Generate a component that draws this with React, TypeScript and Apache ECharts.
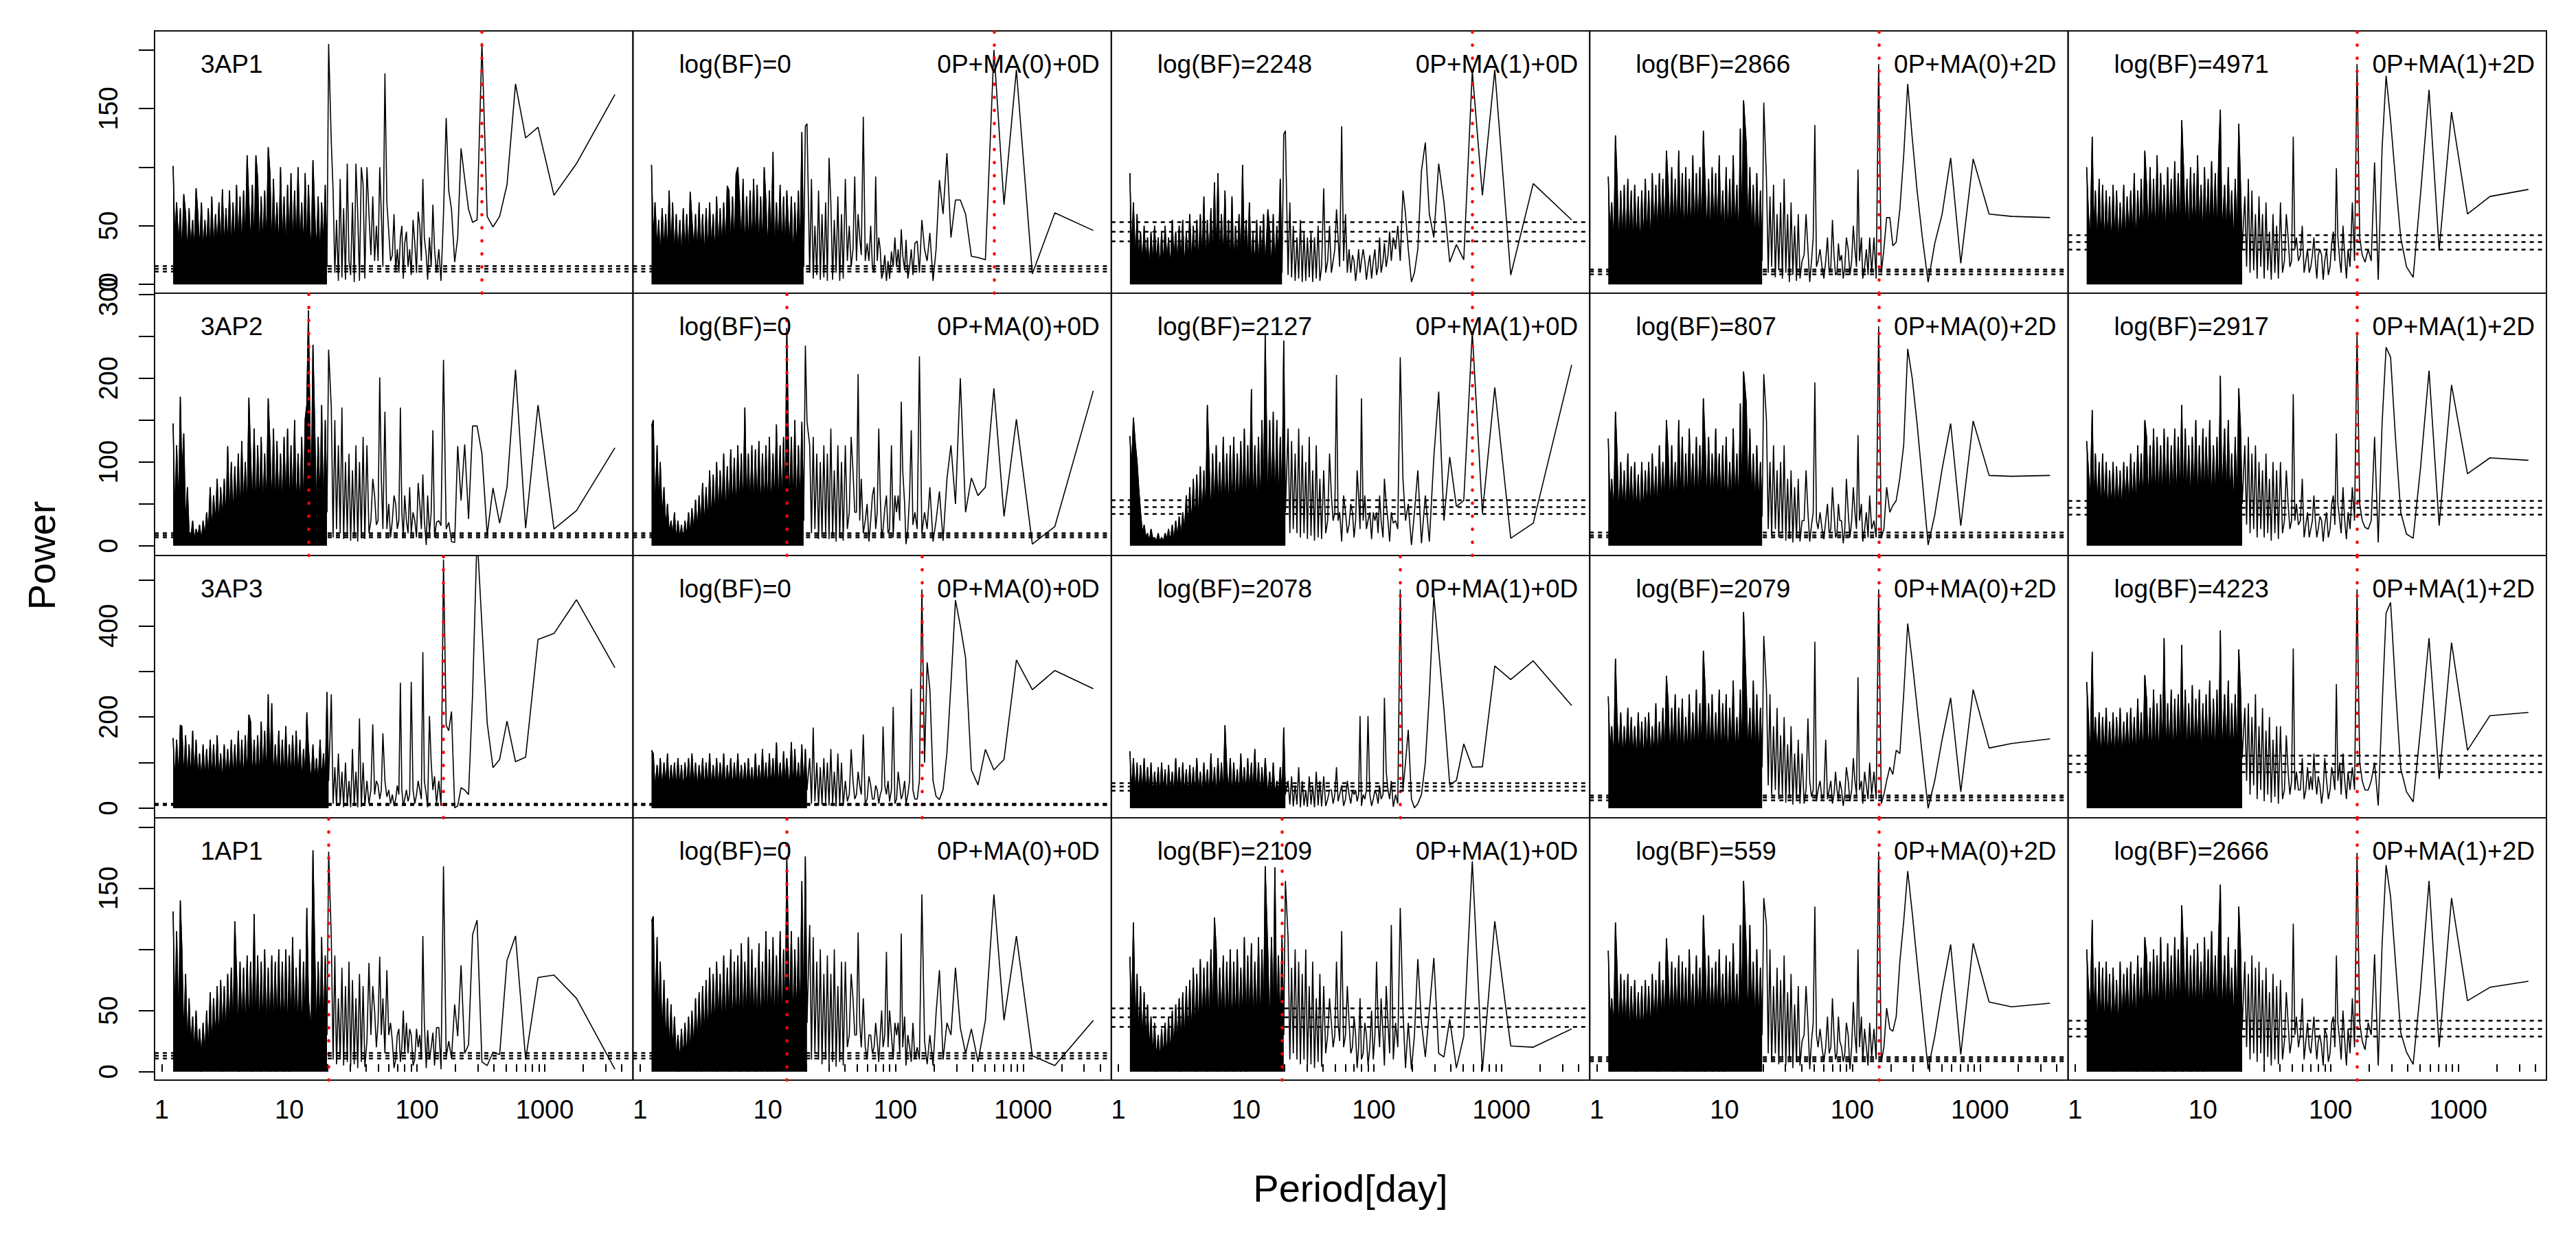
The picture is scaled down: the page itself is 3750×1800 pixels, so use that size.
import React, { useEffect, useRef } from "react";
import * as echarts from "echarts";

// Period grid (days): long periods (T/k), mid range, dense short-period range
const periodsExact = [3540, 1770, 1180, 885, 708, 590, 506, 443, 393, 354, 322, 295, 272, 253, 236, 221, 208, 197, 186, 177, 169, 161, 154, 148];
const periodsMid = [142, 137, 133, 129, 125, 121, 118, 114, 111, 108, 105, 102, 99, 96, 93, 90, 87.5, 85, 82.5, 80, 78, 76, 74, 72, 70, 68, 66, 64, 62, 60, 58, 56, 54, 52.5, 51, 49.5, 48, 46.5, 45, 43.5, 42, 40.5];
const periodsDense = [39, 37.8, 36.6, 35.4, 34.3, 33.2, 32.2, 31.2, 30.2, 29.3,
  28.4, 27.5, 26.6, 25.8, 25, 24.2, 23.4, 22.7, 22, 21.3,
  20.3, 19.7, 19.1, 18.5, 17.9, 17.4, 16.8, 16.3, 15.8, 15.3,
  14.8, 14.1, 13.7, 13.3, 12.9, 12.5, 12.1, 11.7, 11.3, 11,
  10.6, 10.3, 10, 9.68, 9.38, 9.09, 8.8, 8.53, 8.26, 8,
  7.75, 7.51, 7.28, 7.05, 6.83, 6.62, 6.41, 6.21, 6.02, 5.83,
  5.65, 5.47, 5.3, 5.13, 4.97, 4.82, 4.67, 4.52, 4.38, 4.24,
  4.11, 3.98, 3.86, 3.74, 3.62, 3.51, 3.4, 3.29, 3.19, 3.09,
  2.99, 2.9, 2.81, 2.72, 2.64, 2.55, 2.47, 2.4, 2.32, 2.25,
  2.18, 2.11, 2.05, 1.98, 1.92, 1.86, 1.8, 1.75, 1.69, 1.64,
  1.59, 1.54, 1.49, 1.44, 1.4, 1.36, 1.31, 1.27, 1.23];

const rowNames = ["3AP1", "3AP2", "3AP3", "1AP1"];
const modelNames = ["0P+MA(0)+0D", "0P+MA(1)+0D", "0P+MA(0)+2D", "0P+MA(1)+2D"];
const logBF = [
  [0, 2248, 2866, 4971],
  [0, 2127, 807, 2917],
  [0, 2078, 2079, 4223],
  [0, 2109, 559, 2666],
];

const yMin = [-7.5, -11.6, -21, -6.9];
const yMax = [216.2, 301.5, 554, 207.6];
const yTickValues = [
  [0, 50, 100, 150, 200],
  [0, 50, 100, 150, 200, 250, 300],
  [0, 100, 200, 300, 400, 500],
  [0, 50, 100, 150, 200],
];
const yLabelValues = [
  [0, 50, 150],
  [0, 100, 200, 300],
  [0, 200, 400],
  [0, 50, 150],
];
const xLabelValues = [1, 10, 100, 1000];
const xTickValues = [1, 2, 3, 4, 5, 6, 7, 8, 9, 10, 20, 30, 40, 50, 60, 70, 80, 90, 100, 200, 300, 400, 500, 600, 700, 800, 900, 1000, 2000, 3000, 4000];

const signalPeriod = [
  [322, 590, 590, 161, 161],
  [14.1, 14.1, 590, 161, 161],
  [161, 161, 161, 161, 161],
  [20.3, 14.1, 19, 161, 161],
];

const levels = [
  [[11, 13.5, 16], [11, 13.5, 16], [37, 45, 53], [9, 11, 13], [30, 36, 42]],
  [[10, 12.5, 15], [10, 12.5, 15], [38, 46, 54.5], [10.5, 13, 16], [37.5, 45.5, 54]],
  [[7.5, 9, 10.5], [7.5, 9, 10.5], [38.5, 47.5, 56], [18.5, 23.5, 28.5], [80, 98, 115]],
  [[11, 13, 15.5], [11, 13, 15.5], [37, 44.5, 52], [8.5, 10.5, 12], [29, 35, 42]],
];

// Power values on the period grid (24 long + 42 mid + 109 dense)
const r1c1 = [162,103,76,134,125,171,85,58,49,58,206,55,53,64,90,116,40,19,64,80,142,60,3,30,
  10,30,68,15,40,4,25,40,90,20, 50,62,10,35,55,8,30,15,45,35, 5,50,40,10,30,12,60,25,20,45, 70,180,15,60,100,20,50,20,75,25, 60,100,
  5,85,100,3,60,103,2,70,8,20, 103,4,65,6,90,3,55,10,80,121, 205,15,85,30,70,18,75,25,60,106, 20,85,22,95,25,70,30,100,25,80,
  28,95,30,85,22,75,28,100,25,70, 30,90,25,95,117,28,80,30,75,25, 90,110,28,85,30,70,110,30,80,25, 75,30,85,28,70,25,80,30,65,28,
  81,25,70,30,60,28,75,25,65,30, 55,25,70,28,60,82,25,55,30,65, 25,60,77,22,65,30,70,35,101];
const r1c2 = [46,61,9,183,68,200,21,23,24,60,72,72,40,112,60,89,30,3,44,20,30,55,10,37,
  35,8,30,15,5,38,12,25,47,10, 30,15,40,15,28,5,20,3,25,10, 5,30,40,20,92,10,15,50,20,35, 20,143,25,40,60,20,92,30,15,50, 20,90,
  5,60,3,75,10,55,4,70,108,3, 70,6,60,4,80,8,50,5,90,10, 137,135,15,130,20,80,25,70,18,75, 30,80,22,75,25,85,30,70,20,113,
  30,80,25,70,100,28,75,25,85,30, 90,28,80,30,75,25,90,30,70,100, 94,28,75,30,80,84,25,70,28,65, 25,75,22,60,28,70,25,65,20,60,
  25,70,22,60,28,55,79,20,60,25, 65,18,55,25,60,20,70,25,80,22, 60,28,65,20,55,30,70,35,102];
const r1c3 = [55,86,8,183,76,182,21,34,19,70,103,40,60,121,97,30,10,2,30,60,80,20,50,30,
  40,20,45,25,15,35,20,10,40,15, 8,30,20,5,25,15,4,20,30,20, 10,30,15,3,20,25,10,30,10,60, 20,135,15,40,64,30,20,10,50,20, 10,82,
  15,3,50,5,40,2,45,6,40,3, 45,2,55,5,40,3,50,6,70,8, 131,128,10,90,20,50,15,60,10,45, 64,10,60,18,50,12,55,15,45,10,
  70,15,55,20,102,15,60,18,50,15, 75,15,55,20,80,18,60,15,95,20, 87,18,65,20,55,15,75,18,60,15, 55,20,50,15,60,18,45,12,55,18,
  50,15,45,20,55,12,40,18,50,15, 45,12,40,18,50,15,45,12,40,18, 50,15,45,20,60,18,70,25,95];
const r1c4 = [57,58,60,107,18,108,60,35,2,40,80,125,171,110,64,36,33,57,57,30,10,188,5,40,
  10,40,8,30,15,5,40,20,98,15, 30,50,20,8,30,40,15,5,25,20, 35,10,8,25,55,15,10,40,20,5, 15,30,20,15,136,40,20,2,30,60, 25,20,
  5,60,3,50,8,70,2,60,10,90, 5,70,12,60,6,85,15,75,10,90, 155,20,80,30,95,25,85,35,100,40, 120,157,40,133,30,85,40,110,35,90,
  38,100,35,80,40,110,35,95,40,100, 35,90,40,85,131,35,100,40,95,35, 110,38,90,40,100,35,95,40,114,35, 90,40,100,38,85,114,35,90,40,95,
  35,85,38,95,30,80,35,90,32,80, 28,75,32,85,28,80,30,90,25,85, 30,80,28,90,127,30,70,40,92];
const r1c5 = [81,75,60,147,29,166,77,6,15,40,90,140,178,116,4,104,20,30,19,25,40,188,20,70,
  15,30,5,25,50,10,20,40,99,20, 45,35,15,8,30,20,4,25,30,25, 5,20,40,25,15,10,30,20,10,50, 25,20,40,30,126,20,15,40,60,20, 10,70,
  5,50,10,60,4,45,12,70,5,60, 15,75,5,60,12,80,10,90,15,75, 30,85,137,35,90,30,80,40,100,35, 85,40,149,110,35,95,40,105,38,90,
  42,100,35,85,40,110,38,95,40,100, 35,90,42,100,140,35,95,40,105,38, 90,42,100,35,85,40,95,38,110,35, 90,40,100,38,85,114,35,90,40,80,
  30,95,35,80,40,75,28,85,32,70, 28,80,32,85,28,75,35,80,30,85, 32,90,28,80,40,126,35,60,100];

const r2c1 = [117,42,20,168,21,210,70,27,69,13,110,143,143,32,121,54,119,4,5,28,20,222,24,30,
  28,10,138,40,15,60,1,30,85,20, 50,75,10,30,40,15,70,15,30,60, 10,40,165,30,20,50,60,30,10,50, 20,160,20,80,201,30,25,60,80,30, 15,120,
  8,130,10,100,5,120,12,90,6,110, 15,100,8,165,15,120,20,150,10,165, 234,40,150,25,168,45,130,35,140,240, 40,281,168,151,35,130,40,110,35,150,
  40,120,35,140,40,130,38,110,40,125, 35,140,40,120,176,38,110,35,130,40, 120,35,140,38,110,177,35,100,40,125, 30,110,35,95,30,100,28,119,25,80,
  30,70,20,80,25,60,15,70,15,40, 10,30,5,25,10,20,5,30,8,15, 70,20,134,80,178,40,120,30,146];
const r2c2 = [185,23,2,151,35,188,70,60,81,40,200,50,120,80,6,65,30,5,70,20,40,15,226,20,
  40,25,138,60,20,2,50,90,172,30, 60,40,60,10,120,20,15,60,45,20, 10,60,140,40,20,70,60,30,5,50, 30,15,80,30,205,40,40,90,130,40, 20,120,
  6,100,10,120,5,90,12,140,8,110, 15,120,10,100,8,110,20,130,15,120, 148,239,30,148,40,120,35,150,40,130, 35,260,40,130,40,120,35,145,40,110,
  38,130,35,120,40,110,35,125,40,115, 35,120,40,110,38,165,35,110,40,120, 35,105,38,115,35,95,30,110,35,90, 30,100,28,85,25,90,25,70,20,75,
  20,60,15,55,15,45,10,40,10,30, 5,25,8,30,5,40,10,30,15,50, 20,70,30,100,40,120,35,150,143];
const r2c3 = [216,27,9,189,39,255,54,47,106,30,184,106,5,60,3,90,40,1,50,30,80,225,20,30,
  27,40,5,30,50,80,10,30,60,15, 40,30,40,8,40,30,20,60,30,176, 20,60,90,30,10,40,50,25,15,40, 60,5,40,30,204,40,30,60,110,30, 15,90,
  8,80,10,120,6,90,12,130,8,100, 15,120,10,140,15,110,20,125,15,140, 40,245,35,130,40,150,35,160,40,150, 35,252,40,150,38,130,40,120,35,187,
  40,120,35,140,38,125,40,110,35,130, 40,120,35,110,38,130,35,100,40,120, 35,110,30,100,168,30,90,28,95,25, 85,25,80,22,70,20,60,15,40,10,
  35,8,30,5,25,5,20,8,15,5, 10,5,15,5,10,8,20,5,15,10, 25,15,40,70,100,120,153,90,131];
const r2c4 = [84,83,84,149,24,146,92,37,1,78,146,200,235,120,81,54,48,40,70,20,10,262,10,30,
  20,60,10,40,20,5,50,30,132,20, 40,70,30,10,40,80,20,3,30,30, 50,15,10,40,70,20,15,50,30,8, 20,40,20,30,195,40,25,5,40,90, 30,30,
  5,80,10,70,4,90,8,80,6,120, 15,100,10,90,20,120,12,100,20,150, 205,35,100,45,120,40,110,45,140,50, 170,208,45,170,40,110,45,140,40,100,
  45,130,40,120,45,110,50,140,45,110, 40,130,45,120,176,45,120,40,130,45, 110,50,140,45,110,40,130,45,150,40, 100,45,120,40,110,150,40,100,45,120,
  35,95,40,110,35,100,40,90,35,100, 30,85,35,100,30,95,35,110,30,90, 35,100,30,110,160,35,80,45,128];
const r2c5 = [102,105,86,192,24,209,93,9,14,40,129,225,237,146,4,130,30,20,22,30,50,253,30,70,
  20,40,8,30,70,15,30,50,134,25, 60,50,20,10,40,25,5,30,35,20, 10,30,60,30,20,10,40,25,10,80, 30,25,50,30,181,30,20,50,90,30, 15,100,
  8,90,15,100,6,80,15,110,10,90, 20,100,10,120,20,110,15,130,25,120, 50,140,188,45,130,40,110,50,150,45, 140,50,203,45,130,50,120,45,150,50,
  130,45,140,50,120,45,150,50,130,45, 120,50,140,45,168,50,130,45,140,50, 120,45,130,50,140,45,120,50,130,45, 140,50,120,45,130,150,45,110,50,120,
  40,100,45,110,40,95,45,100,35,90, 40,95,35,100,40,90,35,100,40,110, 35,100,45,110,40,162,50,90,125];

const r3c1 = [308,457,383,370,112,102,191,107,89,187,400,600,250,30,40,45,5,1,212,170,182,545,5,60,
  10,70,40,100,202,2,30,60,342,20, 40,60,30,10,40,277,30,15,40,20, 5,40,275,30,50,20,5,30,10,40, 25,60,164,40,20,50,60,30,184,40, 10,60,
  5,100,3,197,2,80,6,130,2,60, 5,100,2,80,8,120,5,90,10,250, 60,255,50,120,60,150,50,110,60,140, 55,130,210,60,130,55,150,60,170,55,
  160,60,140,55,180,60,150,55,170,60, 140,55,230,60,250,55,170,60,190,55, 160,60,150,55,190,205,60,160,55,150, 60,170,55,140,60,150,55,130,60,140,
  55,120,60,160,55,140,60,150,55,130, 60,140,55,120,60,150,55,170,60,140, 55,160,60,180,182,60,150,55,154];
const r3c2 = [262,302,260,325,107,84,129,51,84,330,400,456,272,122,41,19,26,60,260,320,100,480,60,20,
  20,40,262,60,30,10,60,30,20,50, 80,20,10,222,40,15,60,30,50,179, 40,30,10,40,50,20,20,50,70,20, 10,162,30,50,80,30,20,60,129,30, 15,60,
  5,100,8,120,4,80,10,130,6,100, 12,110,8,90,6,100,15,177,10,110, 40,130,35,140,40,100,45,130,40,145, 40,110,45,125,40,100,45,144,40,110,
  45,120,40,100,45,130,40,95,45,120, 40,90,45,110,40,100,45,95,40,120, 45,100,40,110,45,95,40,120,45,100, 40,110,45,95,40,120,45,100,40,110,
  45,95,40,100,45,120,40,110,45,100, 40,95,45,110,40,100,45,95,40,120, 45,100,40,110,45,95,40,120,127];
const r3c3 = [225,323,282,312,91,90,141,61,51,217,346,466,250,100,30,10,1,20,172,100,40,480,10,30,
  3,60,20,40,80,242,30,20,50,10, 30,40,20,5,30,202,40,20,30,5, 202,30,15,40,30,40,10,30,60,20, 5,50,30,15,90,30,10,40,40,20, 5,70,
  4,60,6,80,2,50,8,70,3,40, 6,60,2,90,8,50,4,70,8,60, 30,177,20,90,25,60,30,100,20,80, 25,110,30,90,25,100,30,130,25,100,
  30,110,25,90,30,120,25,85,30,100, 25,110,30,90,182,25,100,30,110,25, 90,30,120,25,85,30,100,25,80,30, 110,25,90,30,95,25,85,30,100,25,
  90,30,110,25,80,30,95,25,85,30, 100,25,90,30,80,25,100,30,90,25, 110,30,95,25,100,30,110,35,125];
const r3c4 = [152,142,132,260,36,242,151,61,0,115,222,322,405,250,120,127,74,90,60,30,10,480,20,80,
  30,100,20,50,80,10,60,40,287,30, 60,110,40,15,60,90,30,5,40,60, 20,40,80,30,10,60,40,20,150,30, 20,60,40,15,365,40,25,60,197,40, 10,120,
  10,150,20,120,8,180,25,140,12,200, 30,160,20,220,40,180,30,250,50,260, 378,90,220,100,250,90,280,100,220,110, 260,430,100,260,110,200,100,280,110,220,
  100,250,110,230,100,260,110,210,100,250, 110,230,100,260,345,110,230,100,260,110, 210,100,250,110,200,100,240,110,220,100, 250,110,220,100,230,290,100,220,110,190,
  100,230,110,180,100,210,110,200,100,190, 110,210,100,180,110,200,100,220,110,180, 100,210,110,200,328,100,180,120,245];
const r3c5 = [210,203,127,363,64,373,174,14,36,87,266,451,428,222,6,100,60,40,40,60,100,480,40,90,
  40,80,20,60,120,30,100,60,272,40, 70,90,40,20,60,110,40,10,50,70, 30,60,120,40,70,40,90,40,20,110, 40,40,80,40,350,60,30,80,160,40, 20,180,
  10,180,25,150,12,200,30,170,15,220, 40,180,20,250,50,200,30,230,60,220, 110,260,348,100,250,110,230,100,280,110, 250,100,390,110,260,100,240,110,280,100,
  250,110,230,100,260,110,240,100,270,110, 230,100,260,110,358,100,250,110,240,100, 260,110,230,100,373,110,250,100,230,110, 260,100,220,110,240,292,100,210,110,240,
  100,200,110,220,100,210,110,190,100,220, 110,200,100,210,110,190,100,220,110,200, 100,210,110,200,120,343,100,200,277];

const r4c1 = [2,60,79,77,10,111,91,14,16,5,8,124,112,22,15,87,29,55,11,25,12,168,2,36,
  36,5,32,20,10,34,3,40,111,10, 30,20,35,10,5,30,35,15,40,15, 50,20,8,35,30,10,3,25,40,30, 83,15,60,30,94,40,20,50,70,30, 89,25,
  4,70,8,80,3,60,6,75,4,90, 8,70,5,85,10,60,6,95,10,110, 180,30,95,25,110,30,90,25,100,181, 30,60,134,30,90,25,100,30,85,28,
  110,30,95,25,100,30,90,28,100,30, 90,28,95,30,85,25,100,30,90,28, 95,30,129,28,90,30,95,25,85,30, 90,28,80,123,25,85,30,80,25,70,
  28,75,20,70,25,60,18,65,15,50, 12,40,10,35,15,50,12,45,20,60, 15,80,25,100,140,30,115,40,131];
const r4c2 = [42,5,13,111,42,145,42,8,35,15,36,85,30,40,10,83,48,5,30,6,25,145,10,20,
  10,40,8,20,30,5,45,20,113,15, 40,30,40,10,30,50,20,98,30,20, 50,30,8,25,40,20,15,30,30,10, 20,60,20,40,114,30,30,60,80,30, 20,90,
  5,90,8,70,4,100,8,80,5,95, 10,80,6,100,10,90,15,110,10,120, 40,176,35,156,30,110,40,100,35,115, 40,176,35,100,30,115,35,95,30,110,
  35,100,30,115,35,90,30,105,30,85, 35,100,30,110,35,90,30,105,30,95, 35,90,30,100,35,85,30,95,30,80, 35,90,30,80,28,85,25,75,25,70,
  20,65,18,60,15,50,12,45,10,40, 10,35,8,30,10,45,15,55,15,60, 20,75,25,90,30,110,40,127,123];
const r4c3 = [35,20,21,123,1,172,29,3,43,12,15,93,50,12,40,92,30,2,40,3,50,134,20,40,
  10,120,15,40,70,5,30,60,20,40, 90,30,10,50,20,5,30,40,15,10, 60,20,3,30,45,20,15,40,70,30, 20,115,25,40,90,30,20,40,60,30, 15,70,
  4,80,8,60,3,90,6,70,5,100, 10,80,6,90,10,100,15,85,10,110, 156,30,110,35,95,30,167,35,110,30, 95,168,35,100,30,110,35,90,30,105,
  35,95,30,110,35,85,30,100,35,90, 30,100,35,90,30,95,35,85,30,100, 126,35,100,30,90,35,85,30,92,30, 80,28,85,25,75,25,70,22,65,20,
  60,18,55,15,50,12,45,10,40,10, 35,8,30,10,40,12,45,15,55,20, 65,20,70,25,80,30,122,40,94];
const r4c4 = [56,53,57,105,14,104,66,29,2,48,90,130,164,123,90,45,33,35,52,20,8,180,10,35,
  12,40,5,20,35,8,45,20,100,15, 30,57,20,2,30,40,15,8,20,25, 45,15,10,30,60,20,15,45,20,8, 20,35,20,30,135,40,25,2,40,70, 30,25,
  5,70,8,55,3,80,10,65,5,95, 12,75,6,85,15,70,8,100,15,120, 142,30,85,35,100,30,90,40,120,35, 100,156,40,120,35,80,40,105,35,90,
  38,95,35,80,40,100,35,90,38,85, 35,95,40,90,128,35,85,40,95,35, 80,40,100,35,85,40,90,35,95,38, 85,35,90,38,80,109,35,75,38,90,
  32,75,35,80,30,70,32,75,28,70, 30,65,28,75,30,70,25,80,30,75, 28,80,30,85,122,35,60,40,99];
const r4c5 = [74,69,58,142,20,156,68,6,16,32,90,143,169,104,5,96,30,40,18,25,40,179,20,60,
  15,35,5,25,50,10,25,40,95,20, 45,40,15,8,30,35,5,20,30,25, 10,25,45,30,15,20,40,25,10,60, 30,20,45,30,121,25,15,40,65,25, 10,75,
  6,70,10,80,5,65,12,85,6,75, 15,90,8,85,15,95,10,80,20,90, 35,100,135,40,100,35,85,45,110,40, 95,40,153,110,40,95,45,115,40,100,
  45,110,40,90,45,105,40,100,45,95, 40,110,45,100,136,40,100,45,110,40, 95,45,105,40,90,45,110,40,95,45, 100,40,90,45,95,110,40,85,45,95,
  35,80,40,90,35,85,40,80,35,90, 30,75,35,85,30,80,35,90,30,85, 35,90,30,85,40,124,45,70,100];

const panelPowers = [
  [r1c1, r1c2, r1c3, r1c4, r1c5],
  [r2c1, r2c2, r2c3, r2c4, r2c5],
  [r3c1, r3c2, r3c3, r3c4, r3c5],
  [r4c1, r4c2, r4c3, r4c4, r4c5],
];

const FONT = "'Liberation Sans', Arial, Helvetica, sans-serif";
const LEFT = 225;
const TOP = 45;
const COLW = 696.4;
const ROWH = 382;
const NDENSE_START = periodsExact.length + periodsMid.length;
const NSOLID_START = NDENSE_START + 20; // periods of about 20 days and shorter form the solid mass

// first local minimum at or after the given index, so the filled mass starts from a low point
function solidStart(pw: number[], from: number) {
  for (let j = Math.max(from, 1); j < pw.length - 1; j++) {
    if (pw[j] <= pw[j - 1] && pw[j] <= pw[j + 1]) return j;
  }
  return from;
}

function buildOption() {
  const periods = [...periodsExact, ...periodsMid, ...periodsDense];
  const grid: any[] = [];
  const xAxis: any[] = [];
  const yAxis: any[] = [];
  const series: any[] = [];
  const graphic: any[] = [];

  for (let r = 0; r < 4; r++) {
    for (let c = 0; c < 5; c++) {
      const i = r * 5 + c;
      grid.push({
        left: LEFT + c * COLW,
        top: TOP + r * ROWH,
        width: COLW,
        height: ROWH,
        show: true,
        borderColor: "#111",
        borderWidth: 2,
        backgroundColor: "transparent",
        containLabel: false,
      });
      const bottom = r === 3;
      xAxis.push({
        type: "log",
        logBase: 10,
        gridIndex: i,
        min: 0.88,
        max: 4900,
        axisLine: { show: false },
        splitLine: { show: false },
        minorTick: { show: false },
        axisTick: bottom
          ? { show: true, inside: true, length: 11, customValues: xTickValues, lineStyle: { color: "#000", width: 2 } }
          : { show: false },
        axisLabel: bottom
          ? {
              show: true,
              customValues: xLabelValues,
              fontSize: 38,
              fontFamily: FONT,
              color: "#000",
              margin: 24,
              formatter: (v: number) => String(Math.round(v)),
            }
          : { show: false },
      });
      const first = c === 0;
      yAxis.push({
        type: "value",
        gridIndex: i,
        min: yMin[r],
        max: yMax[r],
        splitLine: { show: false },
        axisLine: { show: false },
        axisTick: first
          ? { show: true, inside: false, length: 23, customValues: yTickValues[r], lineStyle: { color: "#000", width: 2 } }
          : { show: false },
        axisLabel: first
          ? { show: true, rotate: 90, customValues: yLabelValues[r], fontSize: 38, fontFamily: FONT, color: "#000", margin: 48 }
          : { show: false },
      });

      const pw = panelPowers[r][c];
      const pts: number[][] = [];
      for (let j = 0; j < periods.length && j < pw.length; j++) pts.push([periods[j], pw[j]]);

      series.push({
        type: "line",
        xAxisIndex: i,
        yAxisIndex: i,
        data: pts.slice(solidStart(pw, NSOLID_START)),
        symbol: "none",
        silent: true,
        lineStyle: { color: "#000", width: 1.3 },
        areaStyle: { color: "#000", opacity: 1 },
        z: 2,
      });
      series.push({
        type: "line",
        xAxisIndex: i,
        yAxisIndex: i,
        data: pts,
        symbol: "none",
        silent: true,
        lineStyle: { color: "#000", width: 1.6 },
        z: 3,
        markLine: {
          silent: true,
          symbol: ["none", "none"],
          label: { show: false },
          animation: false,
          data: [
            { xAxis: signalPeriod[r][c], lineStyle: { color: "#ff0000", type: [0.5, 18.5], width: 4.5, cap: "round" } },
            ...levels[r][c].map((v) => ({ yAxis: v, lineStyle: { color: "#000", type: [6, 6], width: 2.5 } })),
          ],
        },
      });

      const ty = TOP + r * ROWH + 48;
      const txtStyle = (text: string, align: string) => ({
        text,
        fill: "#000",
        fontSize: 37,
        fontFamily: FONT,
        align,
        verticalAlign: "middle",
        textAlign: align,
        textVerticalAlign: "middle",
      });
      if (c === 0) {
        graphic.push({ type: "text", x: LEFT + 67, y: ty, silent: true, z: 10, style: txtStyle(rowNames[r], "left") });
      } else {
        graphic.push({
          type: "text",
          x: LEFT + c * COLW + 67,
          y: ty,
          silent: true,
          z: 10,
          style: txtStyle("log(BF)=" + logBF[r][c - 1], "left"),
        });
        graphic.push({
          type: "text",
          x: LEFT + (c + 1) * COLW - 17,
          y: ty,
          silent: true,
          z: 10,
          style: txtStyle(modelNames[c - 1], "right"),
        });
      }
    }
  }

  graphic.push({
    type: "text",
    x: 60,
    y: TOP + 2 * ROWH,
    rotation: Math.PI / 2,
    silent: true,
    style: { text: "Power", fill: "#000", fontSize: 56, fontFamily: FONT, align: "center", verticalAlign: "middle", textAlign: "center", textVerticalAlign: "middle" },
  });
  graphic.push({
    type: "text",
    x: LEFT + 2.5 * COLW,
    y: 1730,
    silent: true,
    style: { text: "Period[day]", fill: "#000", fontSize: 56, fontFamily: FONT, align: "center", verticalAlign: "middle", textAlign: "center", textVerticalAlign: "middle" },
  });

  return {
    animation: false,
    backgroundColor: "#ffffff",
    textStyle: { fontFamily: FONT },
    grid,
    xAxis,
    yAxis,
    series,
    graphic,
  };
}

export default function App() {
  const ref = useRef<HTMLDivElement>(null);
  useEffect(() => {
    if (!ref.current) return;
    const chart = echarts.init(ref.current, null, { renderer: "svg" });
    chart.setOption(buildOption() as any);
    return () => chart.dispose();
  }, []);
  return <div ref={ref} style={{ position: "absolute", left: 0, top: 0, width: 3750, height: 1800 }} />;
}
